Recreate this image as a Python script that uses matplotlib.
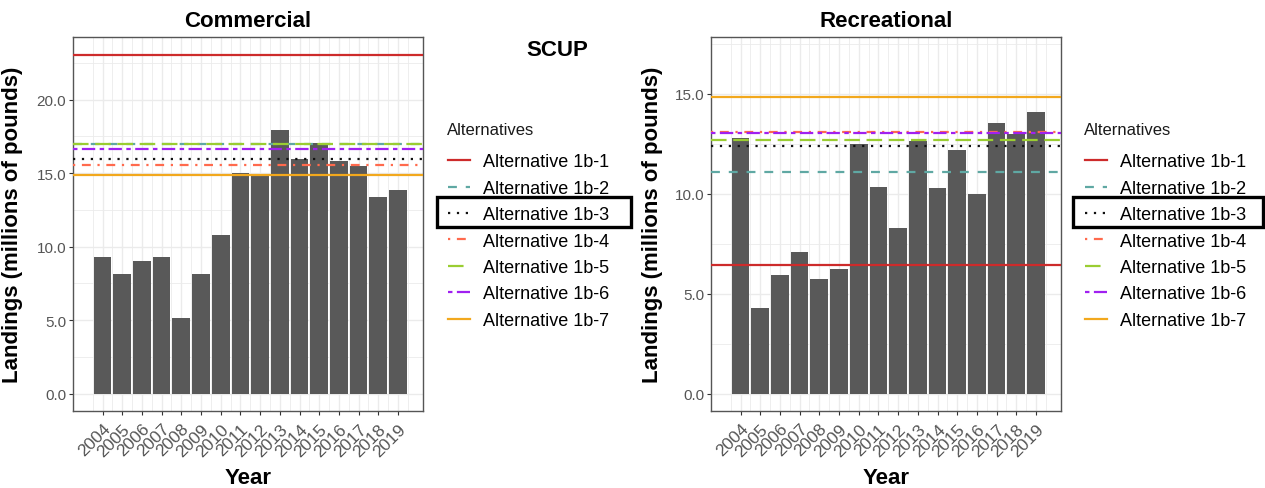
import numpy as np
import matplotlib.pyplot as plt
from matplotlib.lines import Line2D
from matplotlib.patches import Rectangle

plt.rcParams['font.family'] = ['Liberation Sans', 'DejaVu Sans']

years = list(range(2004, 2020))
commercial = [9.3, 8.16, 9.03, 9.3, 5.17, 8.16, 10.77, 15.03, 14.85, 17.91,
              15.94, 17.07, 15.8, 15.49, 13.38, 13.83]
recreational = [12.78, 4.29, 5.93, 7.07, 5.73, 6.26, 12.48, 10.32, 8.30, 12.64,
                10.27, 12.16, 9.97, 13.51, 12.98, 14.08]

alt_names = ['Alternative 1b-1', 'Alternative 1b-2', 'Alternative 1b-3', 'Alternative 1b-4',
             'Alternative 1b-5', 'Alternative 1b-6', 'Alternative 1b-7']
alt_commercial = [23.0, 16.95, 15.99, 15.53, 16.95, 16.62, 14.9]
alt_recreational = [6.46, 11.06, 12.36, 13.06, 12.69, 13.03, 14.82]

alt_colors = ['#CD2B2B', '#5FA8A3', '#111111', '#FF6A4D', '#9ACD32', '#A020F0', '#F2A81D']
# ggplot linetypes: solid, dashed, dotted, dotdash, longdash, twodash, solid
alt_styles = ['-', (0, (4, 4)), (0, (1, 3)), (0, (1, 3, 4, 3)), (0, (7, 3)),
              (0, (2, 2, 6, 2)), '-']

W, H = 1265, 489
fig = plt.figure(figsize=(W / 100, H / 100), dpi=100)

tick_col = '#555555'
grid_col = '#ebebeb'


def panel(left_px, vals, alts, ylim, yticks, title):
    ax = fig.add_axes([left_px / W, (H - 412) / H, 350 / W, 374 / H])
    ax.set_axisbelow(True)
    ax.bar(years, vals, width=0.9, color='#595959', zorder=2)
    for v, c, ls in zip(alts, alt_colors, alt_styles):
        ax.axhline(v, color=c, linestyle=ls, lw=1.6, zorder=3)
    ax.set_xlim(2002.73, 2020.27)
    ax.set_ylim(*ylim)
    ax.set_xticks(years)
    ax.set_xticks(np.arange(2002.5, 2020.5, 1.0), minor=True)
    ax.set_xticklabels([str(y) for y in years], rotation=45, ha='right', va='top',
                       rotation_mode='anchor', fontsize=12.5, color=tick_col)
    ax.set_yticks(yticks)
    ax.set_yticks(np.arange(2.5, ylim[1], 5.0), minor=True)
    ax.set_yticklabels(['%.1f' % t for t in yticks], fontsize=11, color=tick_col)
    ax.tick_params(axis='both', which='major', length=3, width=0.8, color='#333333', pad=2)
    ax.tick_params(axis='x', which='major', pad=4)
    ax.tick_params(which='minor', length=0)
    ax.grid(which='major', color=grid_col, lw=1.0)
    ax.grid(which='minor', color=grid_col, lw=0.6)
    for s in ax.spines.values():
        s.set_color('#555555')
        s.set_linewidth(1.0)
    ax.set_title(title, fontsize=16, fontweight='bold', pad=8)
    ax.set_ylabel('Landings (millions of pounds)', fontsize=16, fontweight='bold')
    ax.set_xlabel('Year', fontsize=16, fontweight='bold')
    return ax


ax1 = panel(73, commercial, alt_commercial, (-1.17, 24.25), [0, 5, 10, 15, 20], 'Commercial')
ax1.yaxis.set_label_coords(-0.143, 0.5)
ax1.xaxis.set_label_coords(0.5, -0.178)
ax1.xaxis.label.set_va('center')

ax2 = panel(711, recreational, alt_recreational, (-0.86, 17.83), [0, 5, 10, 15], 'Recreational')
ax2.yaxis.set_label_coords(-0.137, 0.5)
ax2.xaxis.set_label_coords(0.5, -0.178)
ax2.xaxis.label.set_va('center')

fig.text(557 / W, 1 - 50 / H, 'SCUP', fontsize=16, fontweight='bold', ha='center', va='center')

handles = [Line2D([0], [0], color=c, linestyle=ls, lw=1.6) for c, ls in zip(alt_colors, alt_styles)]
for lx, bx, bw in [(447, 437, 194), (1084, 1073, 190)]:
    fig.text(lx / W, 1 - 131 / H, 'Alternatives', fontsize=12, ha='left', va='center', color='#1a1a1a')
    leg = fig.legend(handles, alt_names, loc='upper left',
                     bbox_to_anchor=((lx + 1) / W, 1 - 154.5 / H), frameon=False,
                     fontsize=13, borderpad=0, borderaxespad=0,
                     handlelength=1.2, handletextpad=0.75, labelspacing=0.52)
    fig.add_artist(Rectangle((bx / W, 1 - 228 / H), bw / W, 30 / H, fill=False,
                             edgecolor='black', lw=2.4, transform=fig.transFigure))

fig.savefig('out.png', dpi=100)
